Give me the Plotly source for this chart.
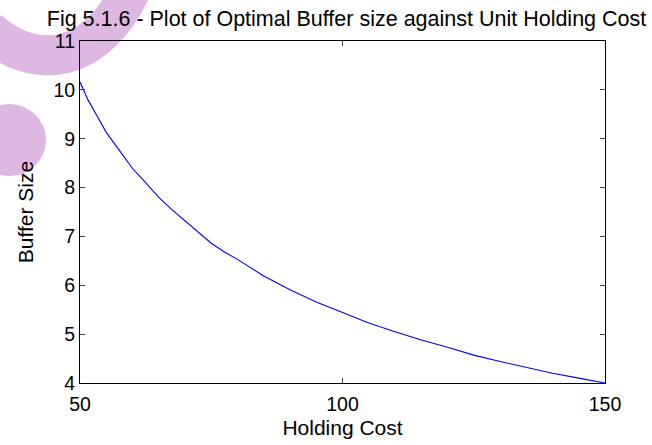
import plotly.graph_objects as go

holding_cost = [50, 51.5, 52.5, 55, 57.5, 60, 62.5, 65, 67.5, 70, 72.5, 75, 77.5, 80, 85, 90, 95,
                100, 105, 110, 115, 120, 125, 130, 135, 140, 145, 150]
buffer_size = [10.16, 9.80, 9.61, 9.13, 8.76, 8.39, 8.10, 7.80, 7.55, 7.32, 7.09, 6.86, 6.68, 6.53,
               6.19, 5.91, 5.66, 5.44, 5.23, 5.05, 4.88, 4.73, 4.57, 4.44, 4.32, 4.20, 4.10, 4.00]
x_ticks = [50, 100, 150]
y_ticks = [4, 5, 6, 7, 8, 9, 10, 11]

W, H = 652, 445
L, R, T, B = 80, 605, 41, 383


def px(x):
    return (x - L) / (R - L)


def py(y):
    return (B - y) / (B - T)


fig = go.Figure()
fig.add_trace(go.Scatter(x=holding_cost, y=buffer_size, mode="lines",
                         line=dict(color="rgb(0,0,255)", width=1.1), showlegend=False,
                         hoverinfo="skip"))

pink = "rgb(222,184,226)"
# watermark band
path = "M {:.4f},{:.4f} C {:.4f},{:.4f} {:.4f},{:.4f} {:.4f},{:.4f}".format(
    px(-12), py(30), px(34), py(72), px(98), py(65), px(133), py(-15))
fig.add_shape(type="path", path=path, xref="paper", yref="paper",
              line=dict(color=pink, width=40), layer="below")
fig.add_shape(type="circle", xref="paper", yref="paper",
              x0=px(-27), x1=px(46), y0=py(176), y1=py(104),
              fillcolor=pink, line=dict(width=0), layer="below")

fam = "Liberation Sans, Arial, sans-serif"
fig.update_layout(
    width=W, height=H,
    margin=dict(l=L, r=W - R, t=T, b=H - B),
    paper_bgcolor="white", plot_bgcolor="rgba(0,0,0,0)",
    font=dict(family=fam, size=19.5, color="black"),
    title=dict(text="Fig 5.1.6 - Plot of Optimal Buffer size against Unit Holding Cost",
               x=346.5 / W, xanchor="center", y=1 - 18 / H, yanchor="middle",
               font=dict(family=fam, size=21.5, color="black")),
    xaxis=dict(range=[50, 150], tickvals=x_ticks, ticks="inside", ticklen=5,
               showline=True, linecolor="black", linewidth=1, mirror="ticks",
               showgrid=False, zeroline=False, automargin=False,
               ticklabelstandoff=4,
               tickfont=dict(family=fam, size=19.5, color="black"),
               title=dict(text="Holding Cost", standoff=5,
                          font=dict(family=fam, size=21, color="black"))),
    yaxis=dict(range=[4, 11], tickvals=y_ticks, ticks="inside", ticklen=5,
               showline=True, linecolor="black", linewidth=1, mirror="ticks",
               showgrid=False, zeroline=False, automargin=False,
               tickfont=dict(family=fam, size=19.5, color="black"),
               title=dict(text="Buffer Size", standoff=14,
                          font=dict(family=fam, size=21, color="black"))),
)
fig.write_html("out.html", post_script="document.body.style.margin='0';",
               config={"displayModeBar": False})
